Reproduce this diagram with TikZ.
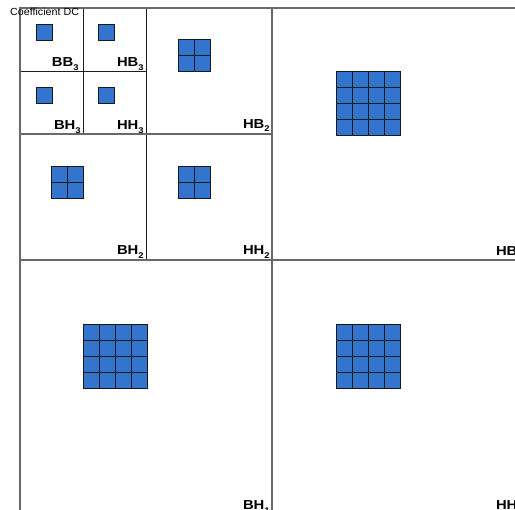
\documentclass[tikz,border=0pt]{standalone}
\usepackage{fontspec}
\setmainfont{Liberation Sans}
\definecolor{cellblue}{RGB}{51,116,206}
\definecolor{gridline}{RGB}{30,30,30}
\definecolor{mainline}{RGB}{105,105,105}
\newcommand{\lbl}[2]{\scalebox{1.14}[1]{\bfseries\fontsize{13}{14}\selectfont #1\raisebox{-3.4pt}{\fontsize{8.3}{9}\selectfont #2}}}
\begin{document}
\begin{tikzpicture}[x=1pt,y=-1pt,
  cellsq/.style={fill=cellblue,draw=black!90,line width=0.9pt},
  thinline/.style={draw=gridline,line width=0.9pt},
  thickline/.style={draw=mainline,line width=1.5pt},
  lab/.style={anchor=base west,inner sep=0pt,outer sep=0pt}]
\useasboundingbox (0,0) rectangle (515,510);
\clip (0,0) rectangle (515,510);
% level 3 lines
\draw[thinline] (83,8) -- (83,134);
\draw[thinline] (20,71) -- (146,71);
% level 2 lines
\draw[thinline] (146,8) -- (146,260);
\draw[thickline] (20,134) -- (272,134);
% level 1 lines
\draw[thickline] (272,8) -- (272,512);
\draw[thickline] (20,260) -- (524,260);
% outer frame
\draw[thickline] (20,512) -- (20,8) -- (524,8) -- (524,512) -- cycle;
% level 3 squares
\foreach \x/\y in {36/24, 98/24, 36/87, 98/87}
  \draw[cellsq] (\x,\y) rectangle ++(16,16);
% level 2 grids
\foreach \x/\y in {178/39, 51/166, 178/166}
  \foreach \i in {0,1} \foreach \j in {0,1}
    \draw[cellsq] (\x+16*\i,\y+16*\j) rectangle ++(16,16);
% level 1 grids
\foreach \x/\y in {336/71, 83/324, 336/324}
  \foreach \i in {0,...,3} \foreach \j in {0,...,3}
    \draw[cellsq] (\x+16*\i,\y+16*\j) rectangle ++(16,16);
% labels
\node[lab] (bb3) at (52,67) {\lbl{BB}{3}};
\node[lab] (hb3) at (117,67) {\lbl{HB}{3}};
\node[lab] (bh3) at (54,130) {\lbl{BH}{3}};
\node[lab] (hh3) at (117,130) {\lbl{HH}{3}};
\node[lab] (hb2) at (243,128.5) {\lbl{HB}{2}};
\node[lab] (bh2) at (117,255) {\lbl{BH}{2}};
\node[lab] (hh2) at (243,255) {\lbl{HH}{2}};
\node[lab] (hb1) at (496,255.5) {\lbl{HB}{1}};
\node[lab] (bh1) at (243,510) {\lbl{BH}{1}};
\node[lab] (hh1) at (496,510) {\lbl{HH}{1}};
\node[anchor=base west,inner sep=0pt] (dc) at (10,16) {\scalebox{1.04}[1]{\fontsize{10.3}{11}\selectfont Coefficient DC}};
\end{tikzpicture}
\end{document}
